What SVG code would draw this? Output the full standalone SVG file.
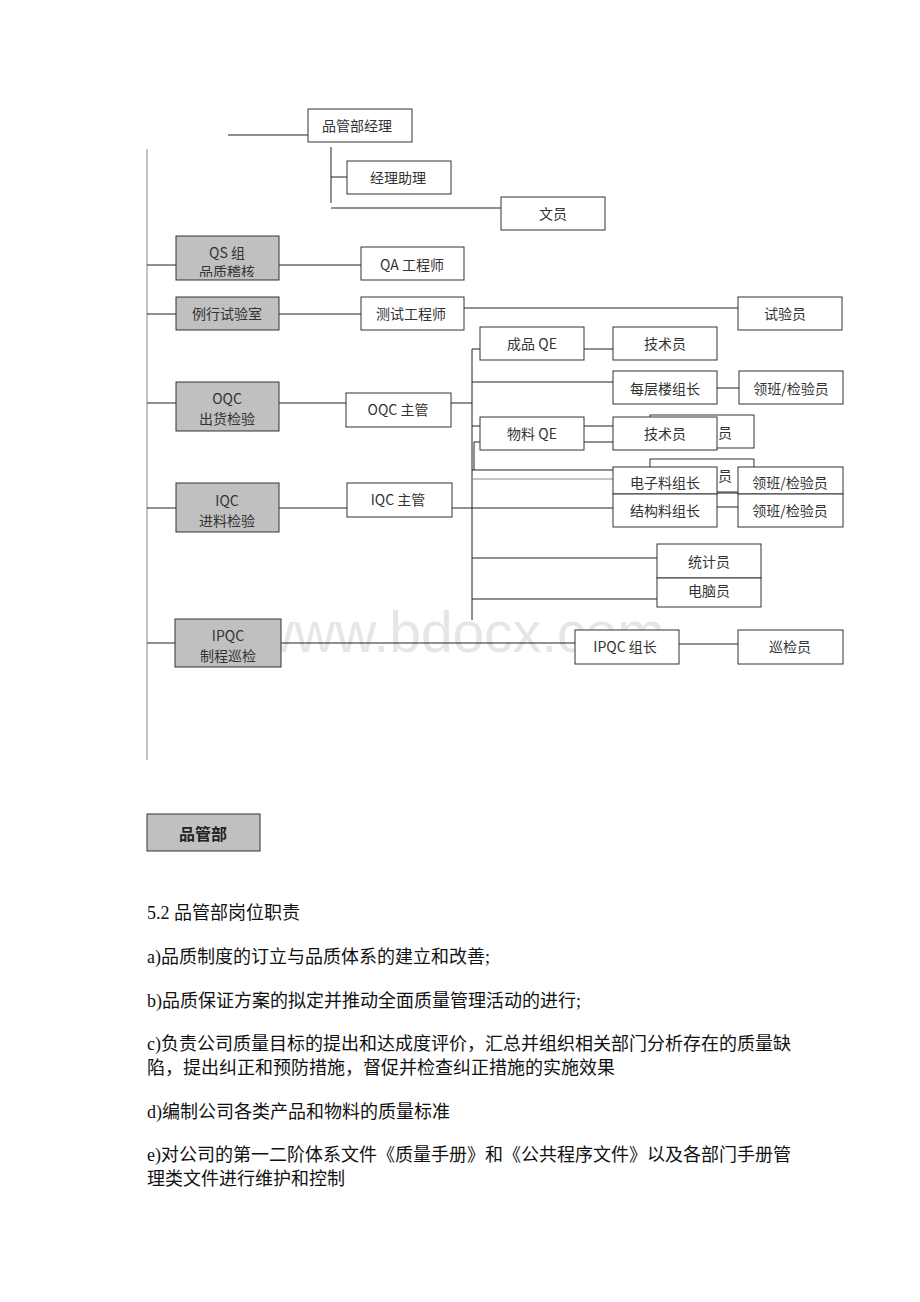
<svg xmlns="http://www.w3.org/2000/svg" width="920" height="1302" viewBox="0 0 920 1302">
<style>
.bx{fill:#fff;stroke:#333;stroke-width:1}
.gb{fill:#c0c0c0;stroke:#333;stroke-width:1}
.t{font-family:"Noto Sans CJK SC","Liberation Sans",sans-serif;font-size:14px;fill:#333;text-anchor:middle;dominant-baseline:central}
.ln{stroke:#222;stroke-width:1;fill:none}
.lg{stroke:#888;stroke-width:1;fill:none}
.p{font-family:"Liberation Serif","Noto Sans CJK SC",serif;font-size:18px;fill:#111}
</style>
<defs>
<clipPath id="qsclip"><rect x="176" y="236" width="103" height="41"/></clipPath>
</defs>
<rect width="920" height="1302" fill="#fff"/>
<text x="253" y="652" font-family="Liberation Sans, sans-serif" font-size="57" fill="#e6e6e6">www.bdocx.com</text>

<g id="connectors">
<line class="lg" x1="147" y1="149" x2="147" y2="760"/>
<line class="ln" x1="228" y1="135" x2="308" y2="135"/>
<line class="ln" x1="331" y1="147" x2="331" y2="203"/>
<line class="ln" x1="331" y1="177" x2="347" y2="177"/>
<line class="ln" x1="331" y1="208" x2="501" y2="208"/>
<line class="ln" x1="147" y1="265" x2="176" y2="265"/>
<line class="ln" x1="279" y1="265" x2="361" y2="265"/>
<line class="ln" x1="147" y1="314" x2="176" y2="314"/>
<line class="ln" x1="279" y1="314" x2="361" y2="314"/>
<line class="ln" x1="464" y1="308" x2="738" y2="308"/>
<line class="ln" x1="472" y1="349" x2="472" y2="620"/>
<line class="ln" x1="472" y1="349" x2="480" y2="349"/>
<line class="ln" x1="584" y1="349" x2="613" y2="349"/>
<line class="ln" x1="472" y1="382" x2="613" y2="382"/>
<line class="ln" x1="717" y1="388" x2="739" y2="388"/>
<line class="ln" x1="147" y1="403" x2="176" y2="403"/>
<line class="ln" x1="279" y1="403" x2="346" y2="403"/>
<line class="ln" x1="451" y1="403" x2="472" y2="403"/>
<line class="ln" x1="472" y1="426" x2="480" y2="426"/>
<line class="ln" x1="474" y1="442" x2="480" y2="442"/>
<line class="ln" x1="474" y1="442" x2="474" y2="470"/>
<line class="ln" x1="584" y1="426" x2="613" y2="426"/>
<line class="ln" x1="584" y1="442" x2="613" y2="442"/>
<line class="ln" x1="472" y1="470" x2="613" y2="470"/>
<line class="lg" x1="472" y1="479" x2="613" y2="479"/>
<line class="ln" x1="147" y1="508" x2="176" y2="508"/>
<line class="ln" x1="279" y1="508" x2="347" y2="508"/>
<line class="ln" x1="452" y1="508" x2="613" y2="508"/>
<line class="ln" x1="717" y1="478" x2="738" y2="478"/>
<line class="ln" x1="717" y1="493" x2="738" y2="493"/>
<line class="ln" x1="717" y1="507" x2="738" y2="507"/>
<line class="ln" x1="472" y1="558" x2="657" y2="558"/>
<line class="ln" x1="472" y1="599" x2="657" y2="599"/>
<line class="ln" x1="147" y1="643" x2="175" y2="643"/>
<line class="ln" x1="281" y1="643" x2="575" y2="643"/>
<line class="ln" x1="679" y1="644" x2="738" y2="644"/>
</g>

<g id="n-manager"><rect class="bx" x="308" y="109" width="104" height="33"/><text class="t" x="357" y="125">品管部经理</text></g>
<g id="n-assistant"><rect class="bx" x="347" y="161" width="104" height="33"/><text class="t" x="398" y="177">经理助理</text></g>
<g id="n-clerk"><rect class="bx" x="501" y="197" width="104" height="33"/><text class="t" x="553" y="213">文员</text></g>

<g id="n-qs"><rect class="gb" x="176" y="236" width="103" height="44"/><g clip-path="url(#qsclip)"><text class="t" x="227" y="252">QS 组</text><text class="t" x="227" y="271">品质稽核</text></g></g>
<g id="n-qa"><rect class="bx" x="361" y="247" width="103" height="33"/><text class="t" x="412" y="264">QA 工程师</text></g>

<g id="n-lab"><rect class="gb" x="176" y="297" width="103" height="33"/><text class="t" x="227" y="313">例行试验室</text></g>
<g id="n-testeng"><rect class="bx" x="361" y="297" width="103" height="33"/><text class="t" x="411" y="313">测试工程师</text></g>
<g id="n-tester"><rect class="bx" x="738" y="297" width="104" height="33"/><text class="t" x="785" y="313">试验员</text></g>

<g id="n-fqe"><rect class="bx" x="480" y="327" width="104" height="33"/><text class="t" x="532" y="343">成品 QE</text></g>
<g id="n-tech1"><rect class="bx" x="613" y="327" width="104" height="33"/><text class="t" x="665" y="343">技术员</text></g>
<g id="n-floor"><rect class="bx" x="613" y="371" width="104" height="33"/><text class="t" x="665" y="388">每层楼组长</text></g>
<g id="n-lead1"><rect class="bx" x="739" y="371" width="104" height="33"/><text class="t" x="791" y="388">领班/检验员</text></g>

<g id="n-oqc"><rect class="gb" x="176" y="382" width="103" height="49"/><text class="t" x="227" y="398">OQC</text><text class="t" x="227" y="418">出货检验</text></g>
<g id="n-oqcm"><rect class="bx" x="346" y="393" width="105" height="34"/><text class="t" x="398" y="409">OQC 主管</text></g>

<g id="n-hidden1"><rect class="bx" x="650" y="415" width="104" height="33"/><text class="t" x="725" y="432">员</text></g>
<g id="n-hidden2"><rect class="bx" x="650" y="459" width="104" height="33"/><text class="t" x="725" y="475">员</text></g>

<g id="n-mqe"><rect class="bx" x="480" y="417" width="104" height="33"/><text class="t" x="532" y="433">物料 QE</text></g>
<g id="n-tech2"><rect class="bx" x="613" y="417" width="104" height="33"/><text class="t" x="665" y="433">技术员</text></g>

<g id="n-elec"><rect class="bx" x="613" y="467" width="104" height="27"/><text class="t" x="665" y="482">电子料组长</text></g>
<g id="n-struct"><rect class="bx" x="613" y="494" width="104" height="33"/><text class="t" x="665" y="510">结构料组长</text></g>
<g id="n-lead2"><rect class="bx" x="738" y="467" width="105" height="27"/><text class="t" x="790" y="482">领班/检验员</text></g>
<g id="n-lead3"><rect class="bx" x="738" y="494" width="105" height="33"/><text class="t" x="790" y="510">领班/检验员</text></g>

<g id="n-iqc"><rect class="gb" x="176" y="483" width="103" height="49"/><text class="t" x="227" y="500">IQC</text><text class="t" x="227" y="520">进料检验</text></g>
<g id="n-iqcm"><rect class="bx" x="347" y="483" width="105" height="34"/><text class="t" x="398" y="499">IQC 主管</text></g>

<g id="n-stat"><rect class="bx" x="657" y="544" width="104" height="34"/><text class="t" x="709" y="561">统计员</text></g>
<g id="n-pc"><rect class="bx" x="657" y="578" width="104" height="29"/><text class="t" x="709" y="590">电脑员</text></g>

<g id="n-ipqc"><rect class="gb" x="175" y="619" width="106" height="48"/><text class="t" x="228" y="635">IPQC</text><text class="t" x="228" y="655">制程巡检</text></g>
<g id="n-ipqcl"><rect class="bx" x="575" y="630" width="104" height="34"/><text class="t" x="625" y="646">IPQC 组长</text></g>
<g id="n-patrol"><rect class="bx" x="738" y="630" width="105" height="34"/><text class="t" x="790" y="646">巡检员</text></g>

<g id="n-dept"><rect class="gb" x="147" y="814" width="113" height="37"/><text class="t" x="203" y="833" style="font-size:16px;font-weight:bold;fill:#222">品管部</text></g>

<g id="body">
<text class="p" x="147" y="919">5.2 品管部岗位职责</text>
<text class="p" x="147" y="963">a)品质制度的订立与品质体系的建立和改善;</text>
<text class="p" x="147" y="1007">b)品质保证方案的拟定并推动全面质量管理活动的进行;</text>
<text class="p" x="147" y="1050">c)负责公司质量目标的提出和达成度评价，汇总并组织相关部门分析存在的质量缺</text>
<text class="p" x="147" y="1074">陷，提出纠正和预防措施，督促并检查纠正措施的实施效果</text>
<text class="p" x="147" y="1118">d)编制公司各类产品和物料的质量标准</text>
<text class="p" x="147" y="1161">e)对公司的第一二阶体系文件《质量手册》和《公共程序文件》以及各部门手册管</text>
<text class="p" x="147" y="1185">理类文件进行维护和控制</text>
</g>
</svg>
